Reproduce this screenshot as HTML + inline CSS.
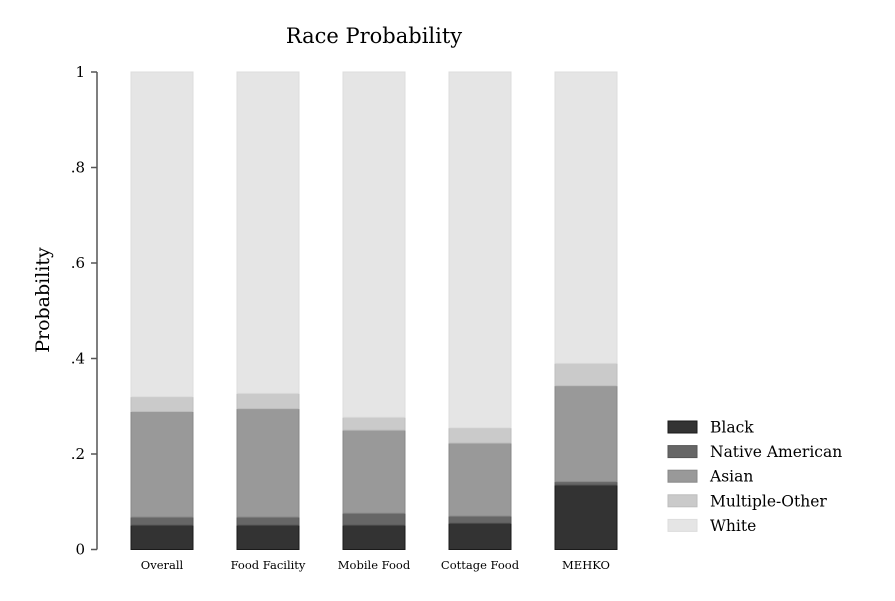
<!DOCTYPE html>
<html><head><meta charset="utf-8"><style>
body{margin:0;background:#fff;}
svg text{font-family:"DejaVu Serif","Liberation Serif",serif;fill:#000;}
</style></head><body>
<svg width="895" height="596" viewBox="0 0 895 596">
<text x="374" y="43" text-anchor="middle" font-size="21">Race Probability</text>
<text transform="translate(49,300) rotate(-90)" text-anchor="middle" font-size="19">Probability</text>
<g id="axes"></g><g id="bars"></g><g id="legend"></g>
</svg>
<script>
const categories=["Overall","Food Facility","Mobile Food","Cottage Food","MEHKO"];
const black=[0.051,0.051,0.051,0.055,0.135];
const nativeAmerican=[0.017,0.017,0.025,0.015,0.007];
const asian=[0.221,0.227,0.174,0.153,0.201];
const multipleOther=[0.031,0.032,0.027,0.032,0.047];
const yTicks=[0,0.2,0.4,0.6,0.8,1];
const yTickLabels=["0",".2",".4",".6",".8","1"];
const seriesNames=["Black","Native American","Asian","Multiple-Other","White"];
const colors=["#333333","#666666","#999999","#cacaca","#e5e5e5"];
const strokes=["#1a1a1a","#555555","#888888","#bdbdbd","#dddddd"];
const NS="http://www.w3.org/2000/svg";
const y0=549.5,y1=72,left=97;
function y(v){return y0-(y0-y1)*v;}
function xBar(i){return 131+i*106;}
const bw=62;
function mk(t,a,p){const e=document.createElementNS(NS,t);for(const k in a)e.setAttribute(k,a[k]);p.appendChild(e);return e;}
const ax=document.getElementById('axes');
const yl=mk('line',{x1:left,x2:left,y1:y(1),y2:y(0),stroke:'#555','stroke-width':1.5},ax);


yTicks.forEach((t,i)=>{
 const l=mk('line',{x1:left-6,x2:left,y1:y(t),y2:y(t),stroke:'#555','stroke-width':1.5},ax);
 
 
 const tx=mk('text',{x:left-12,y:y(t)+5,'text-anchor':'end','font-size':15},ax);
 tx.textContent=yTickLabels[i];
 
 
});
const bg=document.getElementById('bars');
categories.forEach((c,i)=>{
 const vals=[black[i],nativeAmerican[i],asian[i],multipleOther[i]];
 const sum=vals.reduce((a,b)=>a+b,0);
 vals.push(1-sum);
 let cum=0;
 vals.forEach((v,s)=>{
  const r=mk('rect',{x:xBar(i),y:y(cum+v),width:bw,height:y(cum)-y(cum+v),fill:colors[s],stroke:strokes[s],'stroke-width':1},bg);
  
  
  cum+=v;
 });
 const t=mk('text',{x:xBar(i)+bw/2,y:569,'text-anchor':'middle','font-size':11.5},bg);
 t.textContent=c;
 
 
});
const lg=document.getElementById('legend');
seriesNames.forEach((n,s)=>{
 const cy=427+s*24.6;
 const r=mk('rect',{x:668,y:cy-6,width:29,height:12,fill:colors[s],stroke:strokes[s]},lg);
 
 
 const t=mk('text',{x:710,y:cy+5.5,'font-size':15.5},lg);
 t.textContent=n;
 
 
});
</script>
</body></html>
